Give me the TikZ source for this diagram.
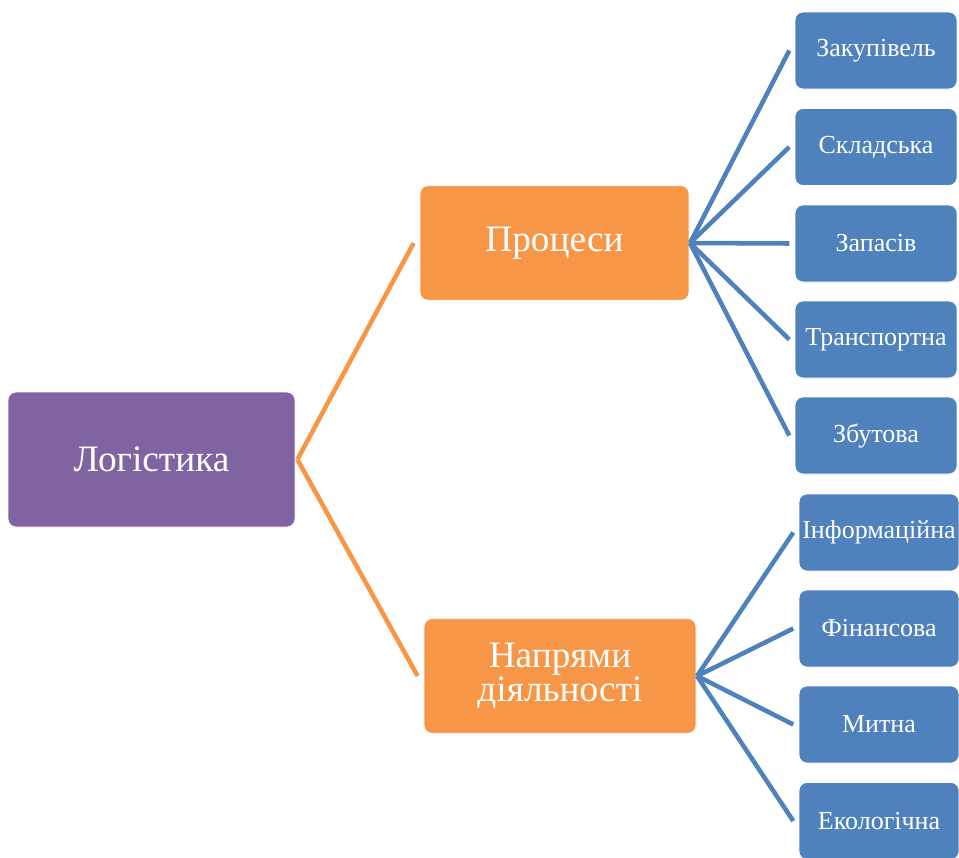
\documentclass[tikz,border=0pt]{standalone}
\usepackage{fontspec}
\setmainfont{Liberation Serif}
\usepackage{xcolor}
\usepackage{tikz}
\usetikzlibrary{positioning,calc}

\definecolor{logpurple}{HTML}{8064A2}
\definecolor{procorange}{HTML}{F79646}
\definecolor{kindblue}{HTML}{4F81BD}

\tikzset{
    box/.style={rounded corners=6pt, draw=white, line width=0.6pt, text=white, align=center, inner sep=0pt},
    mainbox/.style={box, fill=logpurple, minimum width=215.25pt, minimum height=101.25pt, font=\fontsize{28}{32}\selectfont},
    groupbox/.style={box, fill=procorange, minimum height=86pt, font=\fontsize{28}{28}\selectfont},
    kindbox/.style={box, fill=kindblue, minimum height=57.75pt, font=\fontsize{19.5}{22}\selectfont},
    orangeline/.style={procorange, line width=3.4pt},
    blueline/.style={kindblue, line width=3.4pt}
}

\begin{document}
\begin{tikzpicture}[x=0.75pt, y=-0.75pt]
    \useasboundingbox (0,0) rectangle (959,857);

    % Root
    \node[mainbox] (log) at (151.5,459.5) {Логістика};

    % Groups
    \node[groupbox, minimum width=201.75pt] (proc) at (554.5,243) {Процеси};
    \node[groupbox, minimum width=204pt] (napr) at (560,676) {Напрями\\[-2pt]діяльності};

    % Processes
    \begin{scope}
        \node[kindbox, minimum width=121.5pt] (zak) at (876,50.5) {Закупівель};
        \node[kindbox, minimum width=121.5pt] (skl) at (876,147) {Складська};
        \node[kindbox, minimum width=121.5pt] (zap) at (876,243.5) {Запасів};
        \node[kindbox, minimum width=121.5pt] (tra) at (876,339.5) {Транспортна};
        \node[kindbox, minimum width=121.5pt] (zbu) at (876,435.5) {Збутова};
    \end{scope}

    % Activities
    \begin{scope}
        \node[kindbox, minimum width=120pt] (inf) at (879,532.5) {Інформаційна};
        \node[kindbox, minimum width=120pt] (fin) at (879,628.5) {Фінансова};
        \node[kindbox, minimum width=120pt] (mit) at (879,724.5) {Митна};
        \node[kindbox, minimum width=120pt] (eko) at (879,821) {Екологічна};
    \end{scope}

    % Connectors
    \draw[orangeline] ([xshift=1.5pt]log.east) -- ([xshift=-4.5pt]proc.west);
    \draw[orangeline] ([xshift=1.5pt]log.east) -- ([xshift=-4.5pt]napr.west);

    \draw[blueline] ([xshift=0.5pt]proc.east) -- ([xshift=-4pt]zak.west);
    \draw[blueline] ([xshift=0.5pt]proc.east) -- ([xshift=-4pt]skl.west);
    \draw[blueline] ([xshift=0.5pt]proc.east) -- ([xshift=-4pt]zap.west);
    \draw[blueline] ([xshift=0.5pt]proc.east) -- ([xshift=-4pt]tra.west);
    \draw[blueline] ([xshift=0.5pt]proc.east) -- ([xshift=-4pt]zbu.west);

    \draw[blueline] ([xshift=0.5pt]napr.east) -- ([xshift=-4pt]inf.west);
    \draw[blueline] ([xshift=0.5pt]napr.east) -- ([xshift=-4pt]fin.west);
    \draw[blueline] ([xshift=0.5pt]napr.east) -- ([xshift=-4pt]mit.west);
    \draw[blueline] ([xshift=0.5pt]napr.east) -- ([xshift=-4pt]eko.west);
\end{tikzpicture}
\end{document}
